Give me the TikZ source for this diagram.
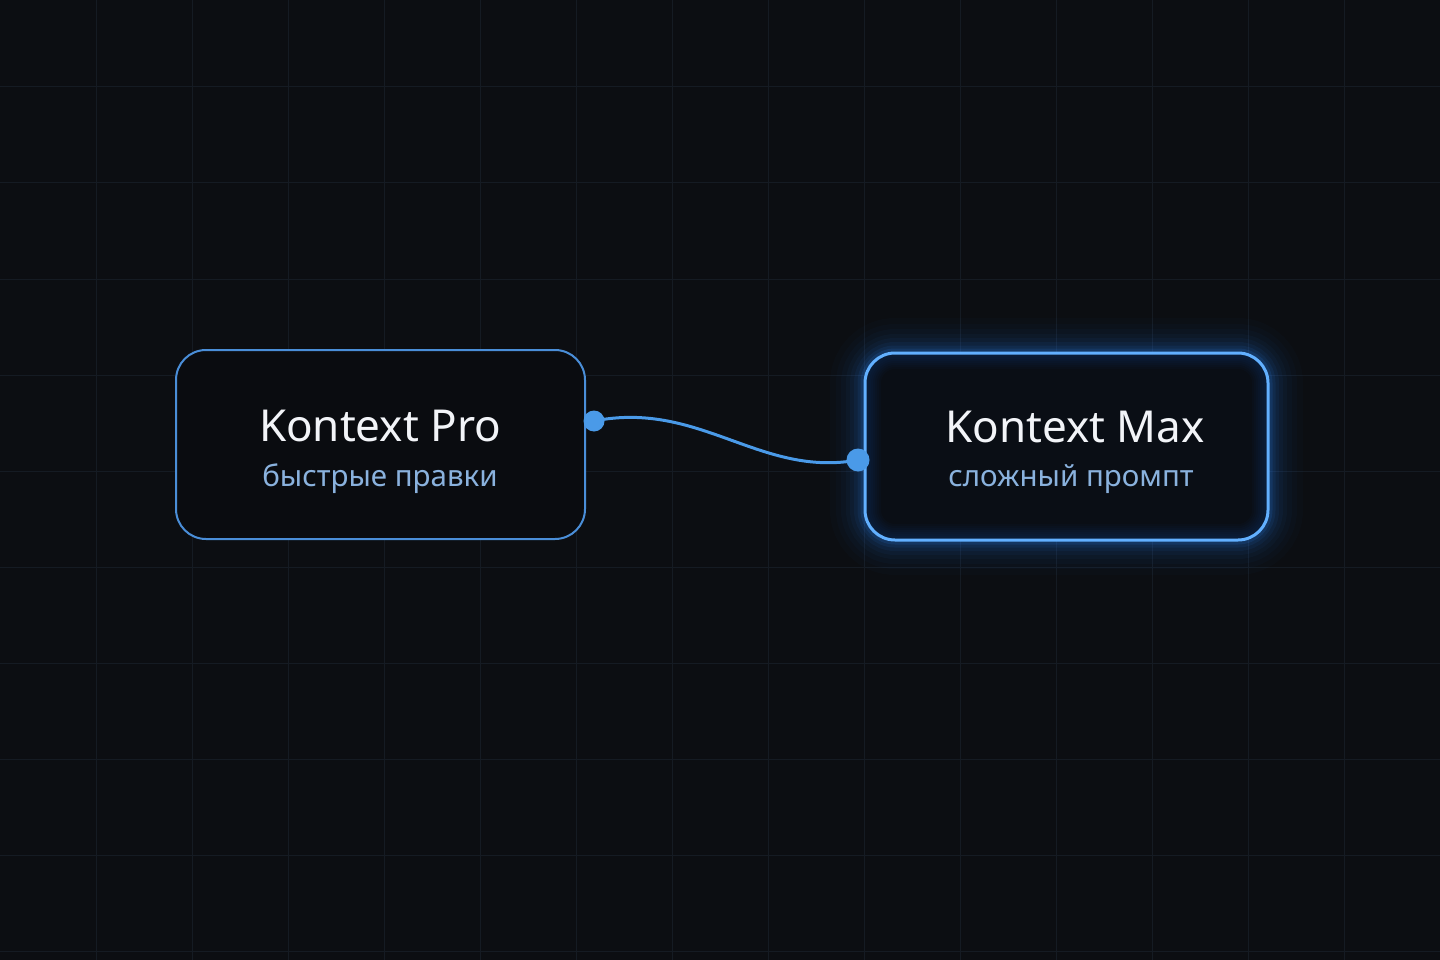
\documentclass[tikz,border=0pt]{standalone}
\usepackage{fontspec}
\setmainfont{Noto Sans}
\definecolor{bg}{HTML}{0C0E12}
\definecolor{gridc}{HTML}{151B23}
\definecolor{nodefill}{HTML}{0A0C10}
\definecolor{maxfill}{HTML}{0A0E15}
\definecolor{edgeA}{HTML}{4A8ED8}
\definecolor{edgeB}{HTML}{62B0FF}
\definecolor{glowc}{HTML}{2F8CFF}
\definecolor{wire}{HTML}{4A9AE8}
\definecolor{subc}{HTML}{8AB2DE}
\definecolor{titlec}{HTML}{F2F4F8}
\begin{document}
\begin{tikzpicture}[x=1pt,y=-1pt,
  box/.style={rounded corners=30pt, line width=2pt},
  title/.style={text=titlec, font=\fontsize{44}{50}\selectfont},
  sub/.style={text=subc, font=\fontsize{29.5}{34}\selectfont},
  port/.style={circle, fill=wire, inner sep=0pt, minimum size=21pt}]
\fill[bg] (0,0) rectangle (1440,960);
\useasboundingbox (0,0) rectangle (1440,960);
\foreach \i in {1,...,14} \draw[gridc, line width=1pt] (96*\i,0) -- (96*\i,960);
\foreach \j in {0,...,9} \draw[gridc, line width=1pt] (0,87+96*\j) -- (1440,87+96*\j);
% outer glow
\foreach \w/\o in {70/0.018,58/0.022,48/0.028,38/0.035,30/0.045,22/0.06,15/0.08,9/0.12}
  \draw[glowc, line width=\w pt, opacity=\o, rounded corners=30pt] (865,353) rectangle (1268,540);
% nodes
\draw[box, draw=edgeA, fill=nodefill] (176,350) rectangle (585,539);
\fill[maxfill, rounded corners=30pt] (865,353) rectangle (1268,540);
% inner glow
\begin{scope}
  \clip[rounded corners=30pt] (865,353) rectangle (1268,540);
  \foreach \w in {32,28,...,4}
    \draw[glowc, line width=\w pt, opacity=0.025, rounded corners=30pt] (865,353) rectangle (1268,540);
\end{scope}
\draw[box, draw=edgeB, line width=3pt] (865,353) rectangle (1268,540);
\node[title] (proT) at (380,426) {Kontext Pro};
\node[sub] (proS) at (380,479) {быстрые правки};
\node[title] (maxT) at (1075,427) {Kontext Max};
\node[sub] (maxS) at (1071,479) {сложный промпт};
\node[port] (pa) at (594,421) {};
\node[port, minimum size=23pt] (pb) at (858,460) {};
\draw[wire, line width=3pt] (pa.center) .. controls (700,400) and (760,478) .. (pb.center);
\end{tikzpicture}
\end{document}
